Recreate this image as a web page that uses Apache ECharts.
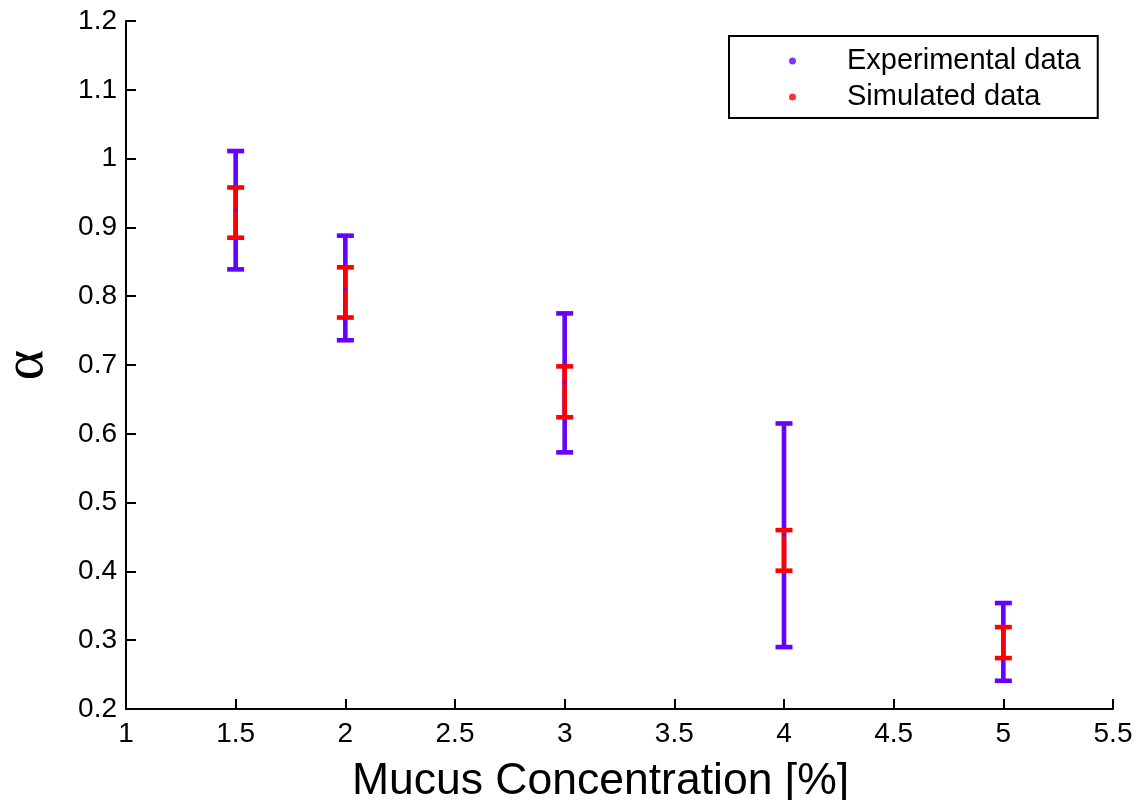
<!DOCTYPE html>
<html>
<head>
<meta charset="utf-8">
<script src="https://cdn.jsdelivr.net/npm/echarts@6/dist/echarts.min.js"></script>
<style>
  html, body { margin: 0; padding: 0; background: #fff; }
  #chart { width: 1136px; height: 800px; }
</style>
</head>
<body>
<div id="chart"></div>
<script>
// Mucus concentration (%) on the x axis
const concentrations = [1.5, 2, 3, 4, 5];

// Experimental alpha: mean with lower / upper error limits
const expMean = [0.924, 0.811, 0.674, 0.453, 0.297];
const expLow  = [0.839, 0.736, 0.573, 0.290, 0.241];
const expHigh = [1.011, 0.888, 0.775, 0.615, 0.354];

// Simulated alpha: mean with lower / upper error limits
const simMean = [0.921, 0.806, 0.661, 0.430, 0.297];
const simLow  = [0.885, 0.769, 0.624, 0.401, 0.274];
const simHigh = [0.958, 0.842, 0.698, 0.460, 0.319];

const seriesNames = ['Experimental data', 'Simulated data'];
const expColor = '#6600ff';
const simColor = '#ff0000';

const FONT = '"Liberation Sans", Arial, sans-serif';

function errorBarRenderer(color) {
  return function (params, api) {
    const x = api.value(0);
    const top = api.coord([x, api.value(2)]);
    const bottom = api.coord([x, api.value(1)]);
    const half = 8.5;
    const style = { stroke: color, lineWidth: 4.6, lineCap: 'butt' };
    return {
      type: 'group',
      children: [
        { type: 'line', shape: { x1: top[0], y1: top[1], x2: bottom[0], y2: bottom[1] }, style: style },
        { type: 'line', shape: { x1: top[0] - half, y1: top[1], x2: top[0] + half, y2: top[1] }, style: style },
        { type: 'line', shape: { x1: bottom[0] - half, y1: bottom[1], x2: bottom[0] + half, y2: bottom[1] }, style: style }
      ]
    };
  };
}

const expBars = concentrations.map((c, i) => [c, expLow[i], expHigh[i]]);
const simBars = concentrations.map((c, i) => [c, simLow[i], simHigh[i]]);
const expPoints = concentrations.map((c, i) => [c, expMean[i]]);
const simPoints = concentrations.map((c, i) => [c, simMean[i]]);

const axisCommon = {
  axisLine: { show: true, lineStyle: { color: '#000', width: 2 } },
  axisTick: { show: true, inside: true, length: 10, lineStyle: { color: '#000', width: 2 } },
  splitLine: { show: false },
  axisLabel: { color: '#000', fontFamily: FONT, fontSize: 28 }
};

const chart = echarts.init(document.getElementById('chart'), null, { renderer: 'canvas' });
chart.setOption({
  animation: false,
  backgroundColor: '#fff',
  grid: { left: 126, right: 23, top: 21, bottom: 91, containLabel: false, outerBoundsMode: 'none' },
  legend: {
    data: seriesNames,
    orient: 'vertical',
    left: 729,
    top: 36,
    padding: [10, 17, 6, 60],
    itemGap: 6,
    itemWidth: 7,
    itemHeight: 7,
    icon: 'circle',
    borderColor: '#000',
    borderWidth: 2,
    backgroundColor: '#fff',
    textStyle: { color: '#000', fontFamily: FONT, fontSize: 29, lineHeight: 30, padding: [0, 0, 0, 46] }
  },
  xAxis: Object.assign({}, axisCommon, {
    type: 'value',
    min: 1,
    max: 5.5,
    interval: 0.5,
    name: 'Mucus Concentration [%]',
    nameLocation: 'middle',
    nameGap: 50,
    nameTextStyle: { color: '#000', fontFamily: FONT, fontSize: 44.5, padding: [0, 38, 0, 0] },
    axisLabel: Object.assign({}, axisCommon.axisLabel, {
      margin: 11,
      formatter: v => String(+v.toFixed(1))
    })
  }),
  yAxis: Object.assign({}, axisCommon, {
    type: 'value',
    min: 0.2,
    max: 1.2,
    interval: 0.1,
    name: 'α',
    nameLocation: 'middle',
    nameRotate: 90,
    nameGap: 70,
    nameTextStyle: { color: '#000', fontFamily: '"Liberation Serif", "Times New Roman", serif', fontSize: 58 },
    axisLabel: Object.assign({}, axisCommon.axisLabel, {
      margin: 9,
      formatter: v => String(+v.toFixed(1))
    })
  }),
  series: [
    {
      name: seriesNames[0] + ' error',
      type: 'custom',
      renderItem: errorBarRenderer(expColor),
      encode: { x: 0, y: [1, 2] },
      data: expBars,
      z: 2
    },
    {
      name: seriesNames[1] + ' error',
      type: 'custom',
      renderItem: errorBarRenderer(simColor),
      encode: { x: 0, y: [1, 2] },
      data: simBars,
      z: 3
    },
    {
      name: seriesNames[0],
      type: 'scatter',
      symbol: 'circle',
      symbolSize: 4,
      itemStyle: { color: expColor },
      data: expPoints,
      z: 4
    },
    {
      name: seriesNames[1],
      type: 'scatter',
      symbol: 'circle',
      symbolSize: 4,
      itemStyle: { color: simColor },
      data: simPoints,
      z: 5
    }
  ]
});
</script>
</body>
</html>
